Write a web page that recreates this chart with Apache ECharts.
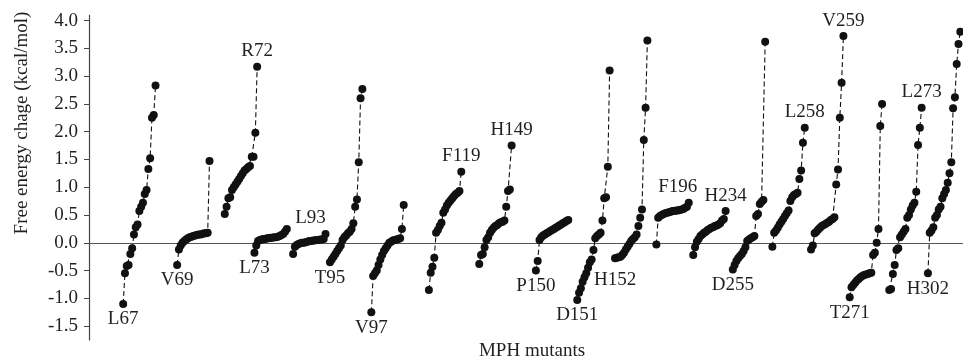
<!DOCTYPE html>
<html>
<head>
<meta charset="utf-8">
<script src="https://cdn.jsdelivr.net/npm/echarts@6/dist/echarts.min.js"></script>
<style>
html, body { margin: 0; padding: 0; background: #fff; }
#main { width: 963px; height: 362px; }
</style>
</head>
<body>
<div id="main"></div>
<script>
// mutant sites, in plot order
var sites = ['L67', 'V69', 'R72', 'L73', 'L93', 'T95', 'V97', 'F119', 'H149', 'P150',
             'D151', 'H152', 'F196', 'H234', 'D255', 'L258', 'V259', 'T271', 'L273', 'H302'];
// index on the mutant axis where each site's 19 mutants begin
var siteStart = [19, 49, 75.5, 92, 113.5, 134, 157, 189, 217, 248.5,
                 271.5, 292.5, 315.5, 336, 358, 380, 401.5, 423, 445, 466.5];

// free energy change (kcal/mol), sorted per site
var L67  = [-1.1, -0.55, -0.42, -0.4, -0.2, -0.1, 0.15, 0.28, 0.33, 0.57, 0.65, 0.72, 0.88, 0.95, 1.33, 1.52, 2.25, 2.3, 2.83];
var V69  = [-0.4, -0.12, -0.05, 0.0, 0.03, 0.06, 0.08, 0.1, 0.11, 0.12, 0.13, 0.14, 0.15, 0.15, 0.16, 0.17, 0.17, 0.18, 1.47];
var R72  = [0.52, 0.65, 0.8, 0.82, 0.95, 1.0, 1.05, 1.1, 1.15, 1.2, 1.25, 1.3, 1.33, 1.36, 1.38, 1.55, 1.55, 1.98, 3.17];
var L73  = [-0.18, -0.05, 0.03, 0.05, 0.06, 0.07, 0.07, 0.08, 0.08, 0.09, 0.09, 0.1, 0.1, 0.11, 0.12, 0.14, 0.16, 0.2, 0.25];
var L93  = [-0.2, -0.07, -0.04, -0.02, -0.01, 0.0, 0.0, 0.01, 0.02, 0.03, 0.03, 0.04, 0.04, 0.05, 0.05, 0.06, 0.06, 0.07, 0.16];
var T95  = [-0.35, -0.3, -0.25, -0.2, -0.15, -0.1, -0.05, 0.05, 0.1, 0.13, 0.17, 0.2, 0.25, 0.35, 0.65, 0.78, 1.45, 2.6, 2.77];
var V97  = [-1.25, -0.6, -0.55, -0.5, -0.4, -0.3, -0.22, -0.15, -0.1, -0.05, 0.0, 0.02, 0.04, 0.05, 0.06, 0.07, 0.08, 0.25, 0.68];
var F119 = [-0.85, -0.54, -0.43, -0.27, 0.18, 0.23, 0.3, 0.36, 0.54, 0.6, 0.67, 0.72, 0.76, 0.8, 0.84, 0.88, 0.9, 0.93, 1.28];
var H149 = [-0.38, -0.22, -0.2, -0.08, 0.05, 0.1, 0.18, 0.23, 0.27, 0.3, 0.32, 0.35, 0.37, 0.38, 0.4, 0.65, 0.93, 0.96, 1.75];
var P150 = [-0.5, -0.33, 0.05, 0.1, 0.13, 0.15, 0.17, 0.19, 0.21, 0.23, 0.25, 0.27, 0.29, 0.31, 0.33, 0.35, 0.37, 0.39, 0.41];
var D151 = [-1.03, -0.9, -0.82, -0.7, -0.62, -0.55, -0.45, -0.35, -0.3, -0.13, 0.08, 0.12, 0.15, 0.18, 0.4, 0.8, 0.82, 1.37, 3.1];
var H152 = [-0.28, -0.27, -0.26, -0.25, -0.22, -0.18, -0.12, -0.07, -0.02, 0.03, 0.07, 0.1, 0.15, 0.3, 0.45, 0.6, 1.85, 2.43, 3.64];
var F196 = [-0.03, 0.45, 0.48, 0.5, 0.52, 0.53, 0.54, 0.55, 0.56, 0.57, 0.57, 0.58, 0.58, 0.59, 0.6, 0.61, 0.63, 0.65, 0.72];
var H234 = [-0.22, -0.08, 0.02, 0.07, 0.12, 0.15, 0.18, 0.2, 0.23, 0.25, 0.27, 0.28, 0.3, 0.31, 0.33, 0.35, 0.4, 0.43, 0.57];
var D255 = [-0.48, -0.4, -0.33, -0.28, -0.24, -0.2, -0.15, -0.08, 0.03, 0.06, 0.08, 0.1, 0.12, 0.48, 0.52, 0.7, 0.74, 0.77, 3.62];
var L258 = [-0.07, 0.18, 0.22, 0.27, 0.33, 0.38, 0.43, 0.48, 0.53, 0.58, 0.75, 0.82, 0.86, 0.88, 0.9, 1.15, 1.3, 1.8, 2.07];
var V259 = [-0.12, -0.05, 0.17, 0.2, 0.24, 0.27, 0.3, 0.32, 0.34, 0.36, 0.38, 0.41, 0.43, 0.46, 1.05, 1.32, 2.25, 2.88, 3.72];
var T271 = [-0.98, -0.8, -0.76, -0.72, -0.68, -0.65, -0.62, -0.6, -0.58, -0.57, -0.56, -0.55, -0.54, -0.22, -0.18, 0.0, 0.25, 2.1, 2.5];
var L273 = [-0.85, -0.83, -0.56, -0.4, -0.13, -0.1, 0.1, 0.15, 0.2, 0.25, 0.45, 0.5, 0.6, 0.67, 0.72, 0.92, 1.76, 2.07, 2.43];
var H302 = [-0.55, 0.18, 0.22, 0.28, 0.45, 0.5, 0.6, 0.65, 0.8, 0.88, 0.95, 1.08, 1.25, 1.45, 2.42, 2.62, 3.22, 3.58, 3.8];

var siteValues = [L67, V69, R72, L73, L93, T95, V97, F119, H149, P150,
                  D151, H152, F196, H234, D255, L258, V259, T271, L273, H302];

var yTicks = [-1.5, -1.0, -0.5, 0.0, 0.5, 1.0, 1.5, 2.0, 2.5, 3.0, 3.5, 4.0];

// where each site name sits: under the lowest point (bottom) or over the highest (top)
var labelPlace = {
  L67: 'bottom', V69: 'bottom', R72: 'top', L73: 'bottom', L93: 'top',
  T95: 'bottom', V97: 'bottom', F119: 'top', H149: 'top', P150: 'bottom',
  D151: 'bottom', H152: 'bottom', F196: 'top', H234: 'top', D255: 'bottom',
  L258: 'top', V259: 'top', T271: 'bottom', L273: 'top', H302: 'bottom'
};
var labelShift = { L93: [-15, 0], H152: [0, 6], F196: [-11, 0] };

var serif = "'Liberation Serif', 'DejaVu Serif', serif";
var ink = '#231f20';
var fs = 19;

var series = sites.map(function (name, s) {
  var vals = siteValues[s];
  var data = vals.map(function (v, i) {
    var item = { value: [siteStart[s] + i, v] };
    var atEnd = labelPlace[name] === 'bottom' ? i === 0 : i === vals.length - 1;
    if (atEnd) {
      item.label = {
        show: true,
        formatter: name,
        position: labelPlace[name],
        distance: 2,
        offset: labelShift[name] || [0, 0],
        fontFamily: serif,
        fontSize: fs,
        color: ink
      };
    }
    return item;
  });
  return {
    type: 'line',
    name: name,
    data: data,
    symbol: 'circle',
    symbolSize: 8,
    showAllSymbol: true,
    clip: false,
    itemStyle: { color: '#111' },
    lineStyle: { color: '#111', width: 1.1, type: [5, 3] },
    label: { show: false },
    emphasis: { disabled: true }
  };
});

var chart = echarts.init(document.getElementById('main'));
chart.setOption({
  animation: false,
  backgroundColor: '#fff',
  grid: { left: 89, right: 0, top: 15, bottom: 22, outerBoundsMode: 'none', containLabel: false },
  xAxis: {
    type: 'value',
    min: 0,
    max: 486,
    axisLine: { onZero: true, lineStyle: { color: '#555', width: 1.2 } },
    axisTick: { show: false },
    axisLabel: { show: false },
    splitLine: { show: false }
  },
  yAxis: {
    type: 'value',
    min: -1.75,
    max: 4.1,
    axisLine: { show: true, lineStyle: { color: '#444', width: 1.2 } },
    axisTick: { show: true, inside: false, length: 5, customValues: yTicks, lineStyle: { color: '#444' } },
    axisLabel: {
      customValues: yTicks,
      margin: 11,
      fontFamily: serif,
      fontSize: fs,
      color: ink,
      formatter: function (v) { return v.toFixed(1); }
    },
    splitLine: { show: false }
  },
  graphic: [
    {
      type: 'text',
      x: 22,
      y: 123,
      rotation: Math.PI / 2,
      style: {
        text: 'Free energy chage (kcal/mol)',
        font: fs + 'px ' + serif,
        fill: ink,
        align: 'center',
        verticalAlign: 'middle'
      }
    },
    {
      type: 'text',
      x: 532,
      y: 351,
      style: {
        text: 'MPH mutants',
        font: fs + 'px ' + serif,
        fill: ink,
        align: 'center',
        verticalAlign: 'middle'
      }
    }
  ],
  series: series
});
</script>
</body>
</html>
